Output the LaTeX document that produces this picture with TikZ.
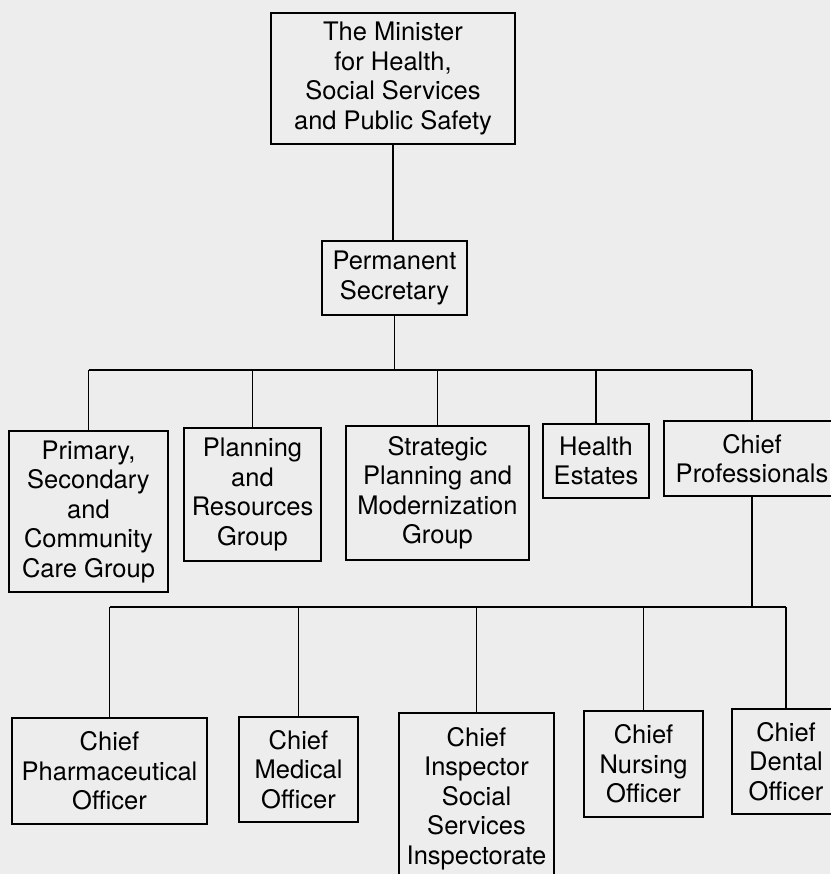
\documentclass[tikz,border=0pt]{standalone}
\usepackage{fontspec}
\setmainfont{TeX Gyre Heros}

\begin{document}
\begin{tikzpicture}[x=1pt,y=-1pt,
   unit/.style={draw,line width=1.3pt,align=center,inner sep=0pt,
     font=\fontsize{25.5}{29.5}\selectfont},
   wire/.style={line width=1.3pt}]
   \fill[black!7] (0,0) rectangle (830,874);
   \useasboundingbox (0,0) rectangle (830,874);
   % minister and secretary
   \node[unit,minimum width=244,minimum height=131] (minister) at (393,78.5)
    {The Minister\\for Health,\\Social Services\\and Public Safety};
   \node[unit,minimum width=145,minimum height=74] (permsec) at (394.5,278)
    {Permanent\\Secretary};
   % groups
   \node[unit,minimum width=159,minimum height=161] (primary) at (88.5,511.5)
    {Primary,\\Secondary\\and\\Community\\Care Group};
   \node[unit,minimum width=137,minimum height=133] (planning) at (252.5,494.5)
    {Planning\\and\\Resources\\Group};
   \node[unit,minimum width=183,minimum height=134] (strategic) at (437.5,493)
    {Strategic\\Planning and\\Modernization\\Group};
   \node[unit,minimum width=106,minimum height=74] (estates) at (596,461)
    {Health\\Estates};
   \node[unit,minimum width=176,minimum height=75] (chiefprof) at (752,458.5)
    {Chief\\Professionals};
   % chief officers
   \node[unit,minimum width=195,minimum height=106] (pharm) at (109.5,771)
    {Chief\\Pharmaceutical\\Officer};
   \node[unit,minimum width=119,minimum height=105] (medical) at (298.5,769.5)
    {Chief\\Medical\\Officer};
   \node[unit,minimum width=155,minimum height=171] (inspector) at (476.5,798.5)
    {Chief\\Inspector\\Social\\Services\\Inspectorate};
   \node[unit,minimum width=119,minimum height=106] (nursing) at (643.5,764)
    {Chief\\Nursing\\Officer};
   \node[unit,minimum width=108,minimum height=105] (dental) at (786,761.5)
    {Chief\\Dental\\Officer};
   % connectors
   \coordinate (bar1) at (393,370);
   \coordinate (bar2) at (752,607);
   \draw[wire] (minister.south) -- (minister.south |- permsec.north);
   \draw[wire] (permsec.south) -- (permsec.south |- bar1);
   \draw[wire] (bar1 -| primary.north) -- (bar1 -| chiefprof.north);
   \draw[wire] (bar1 -| primary.north) -- (primary.north);
   \draw[wire] (bar1 -| planning.north) -- (planning.north);
   \draw[wire] (bar1 -| strategic.north) -- (strategic.north);
   \draw[wire] (bar1 -| estates.north) -- (estates.north);
   \draw[wire] (bar1 -| chiefprof.north) -- (chiefprof.north);
   \draw[wire] (chiefprof.south) -- (bar2);
   \draw[wire] (bar2 -| pharm.north) -- (bar2 -| dental.north);
   \draw[wire] (bar2 -| pharm.north) -- (pharm.north);
   \draw[wire] (bar2 -| medical.north) -- (medical.north);
   \draw[wire] (bar2 -| inspector.north) -- (inspector.north);
   \draw[wire] (bar2 -| nursing.north) -- (nursing.north);
   \draw[wire] (bar2 -| dental.north) -- (dental.north);
\end{tikzpicture}
\end{document}
